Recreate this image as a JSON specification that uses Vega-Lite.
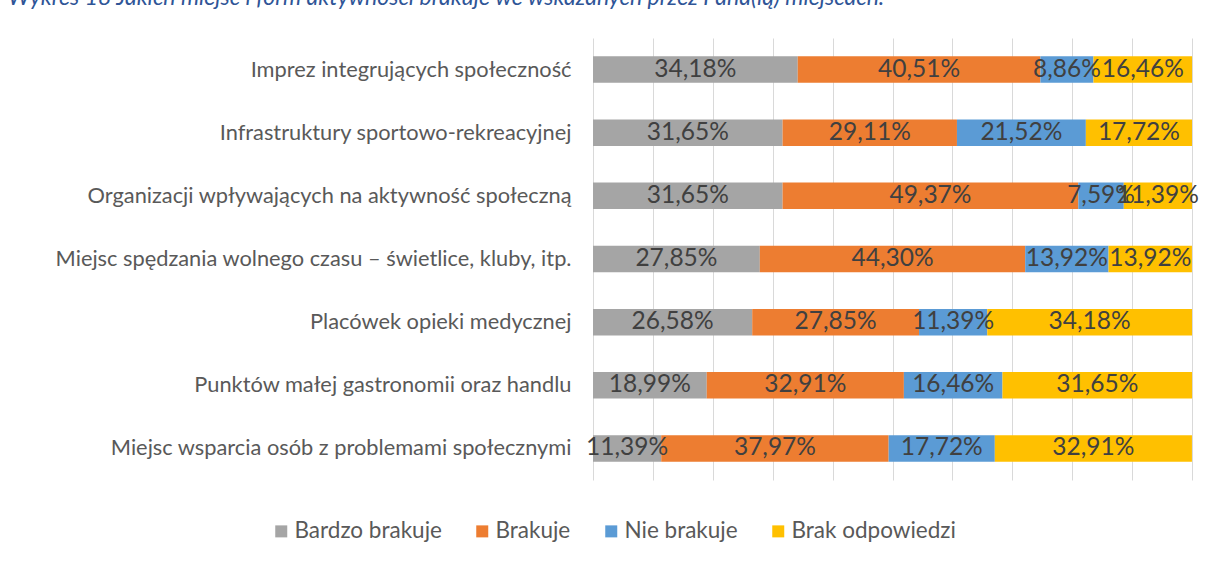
{
  "$schema": "https://vega.github.io/schema/vega-lite/v6.json",
  "width": 599,
  "height": 442,
  "autosize": {"type": "none"},
  "padding": {"left": 593, "top": 38, "right": 18, "bottom": 81},
  "background": "white",
  "config": {
    "view": {"stroke": null},
    "font": "Lato",
    "locale": {"number": {"decimal": ",", "thousands": " ", "grouping": [3], "currency": ["", " zł"]}}
  },
  "title": {
    "text": "Wykres 18 Jakich miejsc i form aktywności brakuje we wskazanych przez Pana(ią) miejscach.",
    "anchor": "start",
    "frame": "group",
    "orient": "top",
    "offset": 28,
    "dx": -585,
    "font": "Lato",
    "fontSize": 23,
    "fontStyle": "italic",
    "fontWeight": "normal",
    "color": "#2F5597"
  },
  "data": {
    "values": [
      {"kategoria": "Imprez integrujących społeczność", "odp": "Bardzo brakuje", "o": 1, "v": 0.3418},
      {"kategoria": "Imprez integrujących społeczność", "odp": "Brakuje", "o": 2, "v": 0.4051},
      {"kategoria": "Imprez integrujących społeczność", "odp": "Nie brakuje", "o": 3, "v": 0.0886},
      {"kategoria": "Imprez integrujących społeczność", "odp": "Brak odpowiedzi", "o": 4, "v": 0.1646},
      {"kategoria": "Infrastruktury sportowo-rekreacyjnej", "odp": "Bardzo brakuje", "o": 1, "v": 0.3165},
      {"kategoria": "Infrastruktury sportowo-rekreacyjnej", "odp": "Brakuje", "o": 2, "v": 0.2911},
      {"kategoria": "Infrastruktury sportowo-rekreacyjnej", "odp": "Nie brakuje", "o": 3, "v": 0.2152},
      {"kategoria": "Infrastruktury sportowo-rekreacyjnej", "odp": "Brak odpowiedzi", "o": 4, "v": 0.1772},
      {"kategoria": "Organizacji wpływających na aktywność społeczną", "odp": "Bardzo brakuje", "o": 1, "v": 0.3165},
      {"kategoria": "Organizacji wpływających na aktywność społeczną", "odp": "Brakuje", "o": 2, "v": 0.4937},
      {"kategoria": "Organizacji wpływających na aktywność społeczną", "odp": "Nie brakuje", "o": 3, "v": 0.0759},
      {"kategoria": "Organizacji wpływających na aktywność społeczną", "odp": "Brak odpowiedzi", "o": 4, "v": 0.1139},
      {"kategoria": "Miejsc spędzania wolnego czasu – świetlice, kluby, itp.", "odp": "Bardzo brakuje", "o": 1, "v": 0.2785},
      {"kategoria": "Miejsc spędzania wolnego czasu – świetlice, kluby, itp.", "odp": "Brakuje", "o": 2, "v": 0.4430},
      {"kategoria": "Miejsc spędzania wolnego czasu – świetlice, kluby, itp.", "odp": "Nie brakuje", "o": 3, "v": 0.1392},
      {"kategoria": "Miejsc spędzania wolnego czasu – świetlice, kluby, itp.", "odp": "Brak odpowiedzi", "o": 4, "v": 0.1392},
      {"kategoria": "Placówek opieki medycznej", "odp": "Bardzo brakuje", "o": 1, "v": 0.2658},
      {"kategoria": "Placówek opieki medycznej", "odp": "Brakuje", "o": 2, "v": 0.2785},
      {"kategoria": "Placówek opieki medycznej", "odp": "Nie brakuje", "o": 3, "v": 0.1139},
      {"kategoria": "Placówek opieki medycznej", "odp": "Brak odpowiedzi", "o": 4, "v": 0.3418},
      {"kategoria": "Punktów małej gastronomii oraz handlu", "odp": "Bardzo brakuje", "o": 1, "v": 0.1899},
      {"kategoria": "Punktów małej gastronomii oraz handlu", "odp": "Brakuje", "o": 2, "v": 0.3291},
      {"kategoria": "Punktów małej gastronomii oraz handlu", "odp": "Nie brakuje", "o": 3, "v": 0.1646},
      {"kategoria": "Punktów małej gastronomii oraz handlu", "odp": "Brak odpowiedzi", "o": 4, "v": 0.3165},
      {"kategoria": "Miejsc wsparcia osób z problemami społecznymi", "odp": "Bardzo brakuje", "o": 1, "v": 0.1139},
      {"kategoria": "Miejsc wsparcia osób z problemami społecznymi", "odp": "Brakuje", "o": 2, "v": 0.3797},
      {"kategoria": "Miejsc wsparcia osób z problemami społecznymi", "odp": "Nie brakuje", "o": 3, "v": 0.1772},
      {"kategoria": "Miejsc wsparcia osób z problemami społecznymi", "odp": "Brak odpowiedzi", "o": 4, "v": 0.3291}
    ]
  },
  "transform": [
    {"stack": "v", "groupby": ["kategoria"], "sort": [{"field": "o", "order": "ascending"}], "as": ["x0", "x1"]},
    {"calculate": "(datum.x0 + datum.x1) / 2", "as": "xm"}
  ],
  "encoding": {
    "y": {
      "field": "kategoria",
      "type": "nominal",
      "sort": null,
      "scale": {"paddingInner": 0.58, "paddingOuter": 0.29},
      "axis": {
        "title": null,
        "domain": false,
        "ticks": false,
        "labelPadding": 22,
        "labelFontSize": 21.8,
        "labelColor": "#595959",
        "labelLimit": 0,
        "grid": false
      }
    }
  },
  "layer": [
    {
      "mark": {"type": "bar"},
      "encoding": {
        "x": {
          "field": "x0",
          "type": "quantitative",
          "scale": {"domain": [0, 1], "nice": false},
          "axis": {
            "title": null,
            "labels": false,
            "ticks": false,
            "domain": false,
            "grid": true,
            "gridColor": "#d9d9d9",
            "gridWidth": 1,
            "values": [0, 0.1, 0.2, 0.3, 0.4, 0.5, 0.6, 0.7, 0.8, 0.9, 1]
          }
        },
        "x2": {"field": "x1"},
        "color": {
          "field": "odp",
          "type": "nominal",
          "sort": ["Bardzo brakuje", "Brakuje", "Nie brakuje", "Brak odpowiedzi"],
          "scale": {
            "domain": ["Bardzo brakuje", "Brakuje", "Nie brakuje", "Brak odpowiedzi"],
            "range": ["#A5A5A5", "#ED7D31", "#5B9BD5", "#FFC000"]
          },
          "legend": {
            "title": null,
            "orient": "none",
            "direction": "horizontal",
            "legendX": -323,
            "legendY": 482,
            "symbolType": "square",
            "symbolSize": 144,
            "symbolStrokeWidth": 0,
            "labelFontSize": 22.5,
            "labelColor": "#595959",
            "columnPadding": 29,
            "labelOffset": 2,
            "labelLimit": 0
          }
        }
      }
    },
    {
      "mark": {"type": "text", "fontSize": 24.5, "color": "#404040", "baseline": "middle", "align": "center"},
      "encoding": {
        "x": {"field": "xm", "type": "quantitative"},
        "text": {"field": "v", "type": "quantitative", "format": ".2%"}
      }
    }
  ]
}
